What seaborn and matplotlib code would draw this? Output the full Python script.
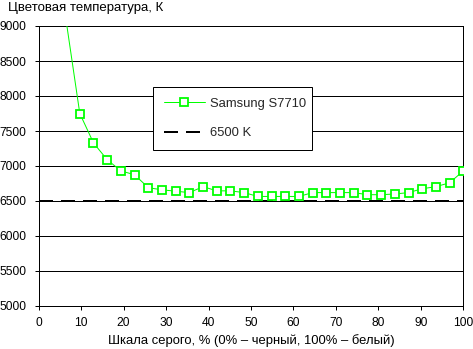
import matplotlib
matplotlib.use("Agg")
import matplotlib.pyplot as plt
import seaborn as sns
import pandas as pd

# Grey-scale level, % (0% = black, 100% = white)
gray_pct = [6.45, 9.68, 12.90, 16.13, 19.35, 22.58, 25.81, 29.03, 32.26, 35.48,
            38.71, 41.94, 45.16, 48.39, 51.61, 54.84, 58.06, 61.29, 64.52, 67.74,
            70.97, 74.19, 77.42, 80.65, 83.87, 87.10, 90.32, 93.55, 96.77, 100.0]
# Measured colour temperature, K
temps = [9080, 7750, 7330, 7090, 6930, 6875, 6690, 6660, 6640, 6620,
         6705, 6645, 6645, 6620, 6565, 6565, 6565, 6565, 6620, 6620,
         6620, 6620, 6590, 6590, 6600, 6620, 6675, 6705, 6760, 6930]
# Reference white point
ref_x = [0, 100]
ref_temp = [6500, 6500]

series_label = "Samsung S7710"
ref_label = "6500 K"
title_text = "Цветовая температура, К"
xlabel_text = "Шкала серого, % (0% – черный, 100% – белый)"
x_ticks = list(range(0, 101, 10))
y_ticks = list(range(5000, 9001, 500))

sns.set_style("white")
plt.rcParams["font.family"] = ["Liberation Sans", "DejaVu Sans"]

PX = 0.72  # one pixel in points at 100 dpi
W, H = 473, 349

fig = plt.figure(figsize=(W / 100, H / 100), dpi=100)
fig.patch.set_facecolor("white")
ax = fig.add_axes([38.7 / W, 1 - 306 / H, 424.6 / W, 280 / H])

df = pd.DataFrame({"x": gray_pct, "t": temps})
ref = pd.DataFrame({"x": ref_x, "t": ref_temp})

sns.lineplot(data=ref, x="x", y="t", ax=ax, color="black", lw=2 * PX,
             linestyle=(0, (7, 4)), label=ref_label, zorder=2)
sns.lineplot(data=df, x="x", y="t", ax=ax, color="#00FF00", lw=1 * PX,
             marker="s", markersize=5.6, markerfacecolor="white",
             markeredgecolor="#00FF00", markeredgewidth=1.8 * PX,
             label=series_label, zorder=3)

ax.set_xlim(0, 100)
ax.set_ylim(5000, 9000)
ax.set_xticks(x_ticks)
ax.set_yticks(y_ticks)
ax.set_xticklabels([str(v) for v in x_ticks])
ax.set_yticklabels([str(v) for v in y_ticks])

ax.yaxis.grid(True, color="black", lw=PX)
ax.xaxis.grid(False)
ax.set_axisbelow(True)

for s in ax.spines.values():
    s.set_visible(True)
    s.set_color("black")
    s.set_linewidth(PX)

ax.tick_params(axis="both", direction="out", length=4 * PX, width=PX,
               color="black", labelsize=8.64, labelcolor="black",
               bottom=True, left=True)
ax.tick_params(axis="y", pad=5.8)
ax.tick_params(axis="x", pad=5.0)

ax.set_ylabel("")
ax.set_xlabel(xlabel_text, fontsize=9.35, color="black")
ax.xaxis.set_label_coords(0.5, -0.1007)
ax.xaxis.label.set_va("top")

fig.text(8.3 / W, 1 - 11 / H, title_text, fontsize=9.5, color="black",
         ha="left", va="baseline")

handles, labels = ax.get_legend_handles_labels()
order = [labels.index(series_label), labels.index(ref_label)]
leg = ax.legend([handles[i] for i in order], [labels[i] for i in order],
                loc="upper left",
                bbox_to_anchor=(0.2699, 0.5, 0.3745, 0.281),
                mode="expand", borderaxespad=0, fontsize=9.35,
                frameon=True, fancybox=False, shadow=False, framealpha=1,
                edgecolor="black", facecolor="white",
                borderpad=0.8, labelspacing=1.35, handlelength=3.2,
                handletextpad=0.35, numpoints=1)
leg.get_frame().set_linewidth(PX)

fig.savefig("out.png", dpi=100, facecolor="white")
